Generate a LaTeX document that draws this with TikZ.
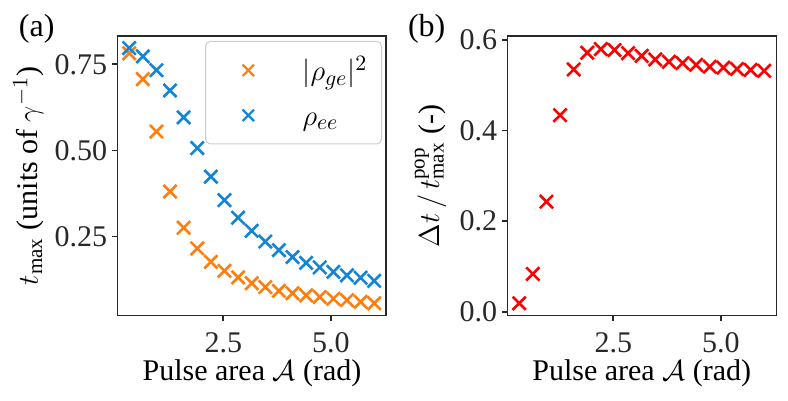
\documentclass[tikz,border=0pt]{standalone}
\usepackage{amsmath}
\usepackage{fontspec}
\setmainfont{Liberation Serif}
\usepackage{tikz}
\usetikzlibrary{shapes.misc}
\definecolor{mplorange}{RGB}{255,127,14}
\definecolor{mplblue}{RGB}{18,133,215}
\definecolor{spine}{RGB}{40,40,40}
\tikzset{
	mk/.style={cross out, draw=#1, line width=1.3pt, minimum size=5.3pt, inner sep=0pt},
	legmk/.style={mk=#1, line width=1.1pt, minimum size=4.6pt},
	ticklbl/.style={font=\fontsize{15}{18}\selectfont, inner sep=0pt},
	axlbl/.style={font=\fontsize{15}{18}\selectfont, inner sep=0pt},
	panellbl/.style={font=\fontsize{16}{19}\selectfont, inner sep=0pt},
	legframe/.style={draw=gray!40, line width=0.5pt, rounded corners=2.5pt, fill=white, fill opacity=0.8}
}

\begin{document}
\begin{tikzpicture}[x=0.5pt, y=-0.5pt, line width=0.8pt]
	\useasboundingbox (0,0) rectangle (788,401);
	%
	\begin{scope}[shift={(115.6,322.9)}, x=21.535pt, y=172.4pt]
		\coordinate (aSW) at (0.04,0.0209);
		\coordinate (aNE) at (6.285,0.832);
		\foreach \t [count=\i] in {0.782,0.707,0.555,0.381,0.276,0.216,0.177,0.151,0.132,0.115,0.104,0.093,0.086,0.080,0.075,0.070,0.066,0.061,0.057}
			\node[mk=mplorange] (o\i) at (0.316*\i,\t) {};
		\foreach \t [count=\i] in {0.797,0.773,0.733,0.674,0.596,0.507,0.424,0.356,0.305,0.267,0.236,0.211,0.191,0.174,0.161,0.148,0.138,0.131,0.122}
			\node[mk=mplblue] (b\i) at (0.316*\i,\t) {};
		\draw[spine] (aSW) rectangle (aNE);
		\foreach \v [count=\i] in {2.5,5.0}
			\draw[spine] (\v,0.0209) -- ++(0,-2.5pt) node[ticklbl, anchor=north, yshift=-5.5pt] (ax\i) {\v};
		\foreach \v [count=\i] in {0.25,0.50,0.75}
			\draw[spine] (0.04,\v) -- ++(-2.5pt,0) node[ticklbl, anchor=east, xshift=-2.25pt] (ay\i) {\v};
	\end{scope}
	%
	\draw[legframe] (205.5,41.3) rectangle (381.5,144);
	\node[legmk=mplorange] (lo) at (248.3,70.3) {};
	\node[legmk=mplblue] (lb) at (248.3,115.3) {};
	\node[axlbl, anchor=base west] (lto) at (301.7,81) {$|\rho_{ge}|^2$};
	\node[axlbl, anchor=base west] (ltb) at (301.7,125.5) {$\rho_{ee}$};
	%
	\node[axlbl, anchor=base] (xa) at (252,380) {Pulse area $\mathcal{A}$ (rad)};
	\node[axlbl, rotate=90, anchor=south] (ya) at (45,176) {$t_{\mathrm{max}}$ (units of $\gamma^{-1}$)};
	\node[panellbl] (pa) at (36.7,29.2) {(a)};
	%
	\begin{scope}[shift={(505.6,311.7)}, x=21.535pt, y=226.4pt]
		\coordinate (bSW) at (0.04,-0.0088);
		\coordinate (bNE) at (6.285,0.609);
		\foreach \t [count=\i] in {0.0186,0.0833,0.243,0.434,0.535,0.572,0.580,0.578,0.571,0.565,0.557,0.552,0.549,0.545,0.541,0.539,0.536,0.534,0.532}
			\node[mk=red] (r\i) at (0.316*\i,\t) {};
		\draw[spine] (bSW) rectangle (bNE);
		\foreach \v [count=\i] in {2.5,5.0}
			\draw[spine] (\v,-0.0088) -- ++(0,-2.5pt) node[ticklbl, anchor=north, yshift=-5.5pt] (bx\i) {\v};
		\foreach \v [count=\i] in {0.0,0.2,0.4,0.6}
			\draw[spine] (0.04,\v) -- ++(-2.5pt,0) node[ticklbl, anchor=east, xshift=-2.25pt] (by\i) {\v};
	\end{scope}
	%
	\node[axlbl, anchor=base] (xb) at (641.7,380) {Pulse area $\mathcal{A}$ (rad)};
	\node[axlbl, rotate=90, anchor=south] (yb) at (447,176) {$\Delta t\,/\,t_{\mathrm{max}}^{\mathrm{pop}}$ (-)};
	\node[panellbl] (pb) at (426.7,29.2) {(b)};
\end{tikzpicture}
\end{document}
